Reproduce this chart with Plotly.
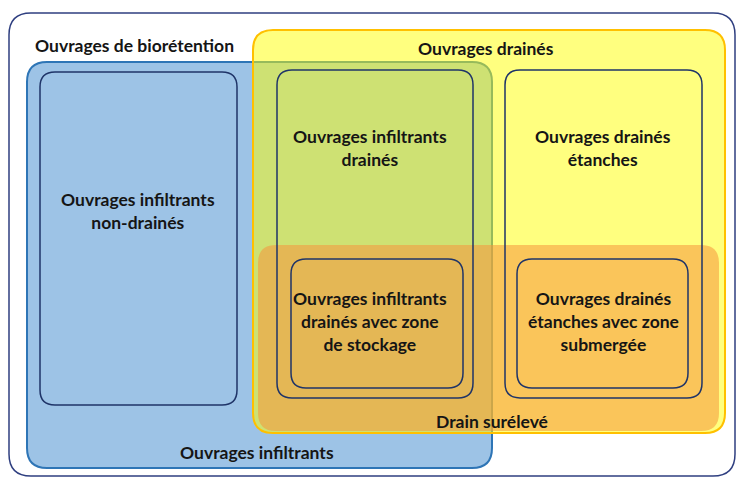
import plotly.graph_objects as go

# ---- Data: labels of the diagram ----
title_outer = "Ouvrages de biorétention"
title_drained = "Ouvrages drainés"
title_infiltr = "Ouvrages infiltrants"
title_drain_raised = "Drain surélevé"
inner_labels = [
    "Ouvrages infiltrants<br>non-drainés",
    "Ouvrages infiltrants<br>drainés",
    "Ouvrages drainés<br>étanches",
    "Ouvrages infiltrants<br>drainés avec zone<br>de stockage",
    "Ouvrages drainés<br>étanches avec zone<br>submergée",
]

W, H = 737, 477


def rrect(x0, y0, x1, y1, r):
    return (f"M {x0+r},{y0} L {x1-r},{y0} Q {x1},{y0} {x1},{y0+r} "
            f"L {x1},{y1-r} Q {x1},{y1} {x1-r},{y1} L {x0+r},{y1} "
            f"Q {x0},{y1} {x0},{y1-r} L {x0},{y0+r} Q {x0},{y0} {x0+r},{y0} Z")


shapes = []
# outer frame
shapes.append(dict(type="path", path=rrect(9, 13, 735, 476, 22),
                   line=dict(color="#2F3F80", width=1.5), fillcolor="rgba(0,0,0,0)", layer="below"))
# blue: infiltrants
shapes.append(dict(type="path", path=rrect(27, 62, 492, 468, 20),
                   line=dict(color="#2E75B6", width=2), fillcolor="#9DC3E6", layer="below"))
# yellow: drainés
shapes.append(dict(type="path", path=rrect(253, 30, 725, 433, 20),
                   line=dict(color="#FFC000", width=2), fillcolor="rgba(255,255,0,0.5)", layer="below"))
# orange: drain surélevé
shapes.append(dict(type="path", path=rrect(258, 245, 719, 431, 18),
                   line=dict(width=0), fillcolor="rgba(245,150,60,0.55)", layer="below"))
# navy outlines
navy = "#1F3468"
for (x0, y0, x1, y1) in [(40, 72, 237, 405), (277, 70, 473, 398), (505, 70, 702, 398),
                         (291, 259, 463, 388), (517, 259, 688, 388)]:
    shapes.append(dict(type="path", path=rrect(x0, y0, x1, y1, 15),
                       line=dict(color=navy, width=1.5), fillcolor="rgba(0,0,0,0)", layer="above"))

font = dict(family="Lato, 'Open Sans', sans-serif", size=17.5, color="#151515")
ann = []


def add(text, x, y, xanchor="center"):
    ann.append(dict(text=f"<b>{text}</b>", x=x, y=y, xref="x", yref="y", showarrow=False,
                    xanchor=xanchor, yanchor="middle", align="center", font=font))


add(title_outer, 33, 45, "left")
add(title_drained, 486, 48)
add(inner_labels[0], 138, 211)
add(inner_labels[1], 370, 148)
add(inner_labels[2], 603, 148)
add(inner_labels[3], 370, 321)
add(inner_labels[4], 603, 321)
add(title_drain_raised, 492, 421)
add(title_infiltr, 257, 452)

fig = go.Figure()
fig.update_layout(
    width=W, height=H, margin=dict(l=0, r=0, t=0, b=0),
    paper_bgcolor="white", plot_bgcolor="white",
    xaxis=dict(range=[0, W], visible=False, fixedrange=True),
    yaxis=dict(range=[H, 0], visible=False, fixedrange=True),
    shapes=shapes, annotations=ann, showlegend=False,
)
fig.write_html("out.html", config=dict(displayModeBar=False),
               post_script="document.body.style.margin='0';document.body.style.overflow='hidden';")
